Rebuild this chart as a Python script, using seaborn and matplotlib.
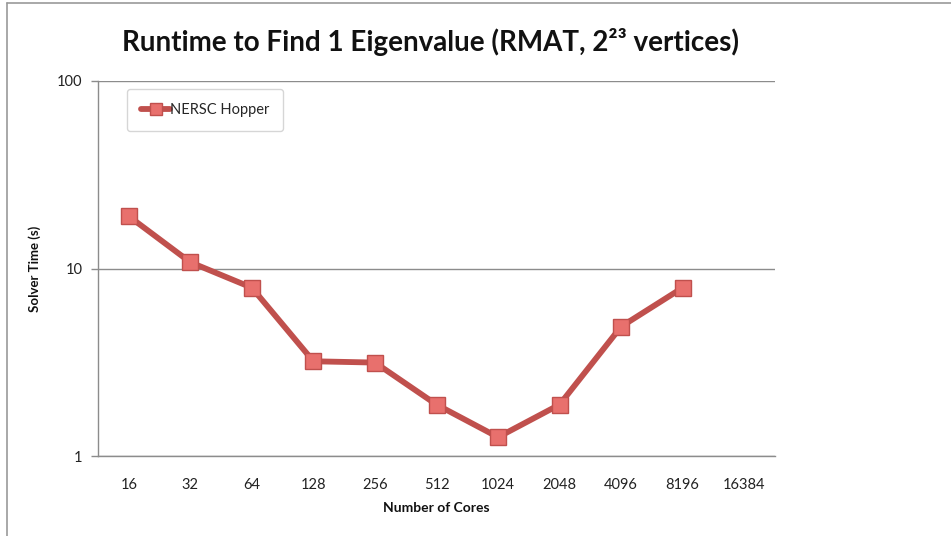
import matplotlib
matplotlib.use("Agg")
import matplotlib.pyplot as plt
import seaborn as sns
import numpy as np
import pandas as pd
from matplotlib.lines import Line2D
from matplotlib.ticker import FixedLocator, NullLocator

cores = ["16", "32", "64", "128", "256", "512", "1024", "2048", "4096", "8196", "16384"]
solver_time = [19.0, 10.8, 7.9, 3.2, 3.15, 1.88, 1.26, 1.88, 4.9, 7.9, np.nan]
series_name = "NERSC Hopper"
title = "Runtime to Find 1 Eigenvalue (RMAT, 2\u00b2\u00b3 vertices)"

sns.set_theme(style="white")
plt.rcParams["font.family"] = ["Lato", "DejaVu Sans"]

df = pd.DataFrame({"pos": np.arange(len(cores)), "time": solver_time,
                   "series": series_name}).dropna()

fig = plt.figure(figsize=(9.51, 5.36), dpi=100)
ax = fig.add_axes([98/951, 1-456/536, 677/951, 375/536])

red = "#C0504D"
sns.lineplot(data=df, x="pos", y="time", hue="series", palette=[red], ax=ax,
             linewidth=4.2, marker="s", markersize=11.5,
             markerfacecolor="#E8706D", markeredgecolor="#C0504D",
             markeredgewidth=1.0, legend=False)

ax.set_yscale("log")
ax.set_ylim(1, 100)
ax.set_xlim(-0.5, len(cores) - 0.5)
ax.yaxis.set_major_locator(FixedLocator([1, 10, 100]))
ax.yaxis.set_minor_locator(NullLocator())
ax.set_yticklabels(["1", "10", "100"])
ax.set_xticks(np.arange(len(cores)))
ax.set_xticklabels(cores)

ax.grid(axis="y", color="#8c8c8c", linewidth=1.0)
ax.grid(axis="x", visible=False)
for s in ["top", "right"]:
    ax.spines[s].set_visible(False)
for s in ["left", "bottom"]:
    ax.spines[s].set_color("#8c8c8c")
    ax.spines[s].set_linewidth(1.0)

ax.tick_params(axis="y", which="major", left=True, length=5, width=1,
               color="#8c8c8c", labelsize=10.5, pad=6, labelcolor="#222222")
ax.tick_params(axis="x", bottom=False, labelsize=10.5, pad=10, labelcolor="#222222")

ax.set_xlabel("Number of Cores", fontsize=10, fontweight="bold", labelpad=7, color="#111111")
ax.set_ylabel("Solver Time (s)", fontsize=9.5, fontweight="bold", labelpad=12, color="#111111")

fig.text(430/951, 1-42/536, title,
         ha="center", va="center", fontsize=20, fontweight="bold", color="#111111")

handle = Line2D([], [], color=red, linewidth=4.2, marker="s", markersize=9,
                markerfacecolor="#E8706D", markeredgecolor="#C0504D")
leg = ax.legend([handle], [series_name], loc="upper left",
                bbox_to_anchor=(0.043, 0.979), borderaxespad=0, frameon=True,
                fontsize=10.5, handlelength=2.0, handletextpad=0.0,
                borderpad=0.95, fancybox=True)
leg.get_frame().set_edgecolor("#cccccc")
leg.get_frame().set_linewidth(1.0)

# figure border (chart area edges)
fig.add_artist(Line2D([7/951, 1], [1-3/536, 1-3/536], transform=fig.transFigure,
                      color="#999999", linewidth=1.2))
fig.add_artist(Line2D([7/951, 7/951], [0, 1-3/536], transform=fig.transFigure,
                      color="#999999", linewidth=1.2))

fig.savefig("out.png", dpi=100)
